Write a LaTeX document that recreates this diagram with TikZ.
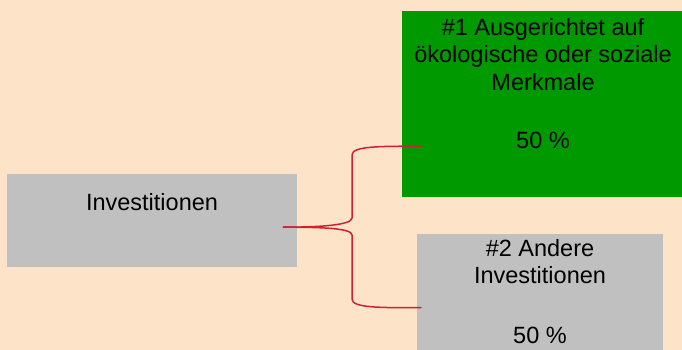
\documentclass[tikz,border=0pt]{standalone}
\usepackage{fontspec}
\setmainfont{Liberation Sans}
\usepackage{xcolor}
\usepackage{tikz}
\usetikzlibrary{positioning}
\definecolor{peach}{RGB}{253,227,200}
\definecolor{boxgray}{RGB}{192,192,192}
\definecolor{boxgreen}{RGB}{0,153,0}
\definecolor{bracered}{RGB}{210,32,48}
\tikzset{
		box/.style={rectangle, inner sep=0pt, anchor=north west},
		boxtext/.style={inner sep=0pt, align=center, font=\fontsize{23.5}{27.5}\selectfont},
		brace/.style={draw=bracered, line width=1.5pt, line cap=round}
	}
\begin{document}
\begin{tikzpicture}[x=1pt, y=-1pt]
				\fill[peach] (0,0) rectangle (682,350);
				\useasboundingbox (0,0) rectangle (682,350);
				
				\node[box, fill=boxgray, minimum width=290pt, minimum height=93pt]  (inv)   at (7,174)   {};
				\node[box, fill=boxgreen, minimum width=280pt, minimum height=186pt] (merk) at (402,11)  {};
				\node[box, fill=boxgray, minimum width=246pt, minimum height=116pt] (other) at (417,234) {};
				
				\node[boxtext, anchor=base]  (invtext)   at (152,210) {Investitionen};
				\node[boxtext, anchor=north] (merktext)  at (543,18)  {\#1 Ausgerichtet auf\\ökologische oder soziale\\Merkmale\\[31pt]50 \%};
				\node[boxtext, anchor=north] (othertext) at (540,239) {\#2 Andere\\Investitionen\\[32pt]50 \%};
				
				\coordinate (tip)    at ([xshift=-14pt, yshift=-6.5pt]inv.east);
				\coordinate (tomerk) at ([xshift=19pt, yshift=-42pt]merk.west);
				\coordinate (tooth)  at ([xshift=4pt, yshift=-15.5pt]other.west);
				
				\path[brace] (tip) .. controls +(37,0) and +(0,7) .. (352,218) -- (352,155) .. controls +(0,-9) and +(-41,0) .. (tomerk);
				\path[brace] (tip) .. controls +(37,0) and +(0,-7) .. (352,235) -- (352,299) .. controls +(0,9) and +(-41,0) .. (tooth);
			\end{tikzpicture}
\end{document}
